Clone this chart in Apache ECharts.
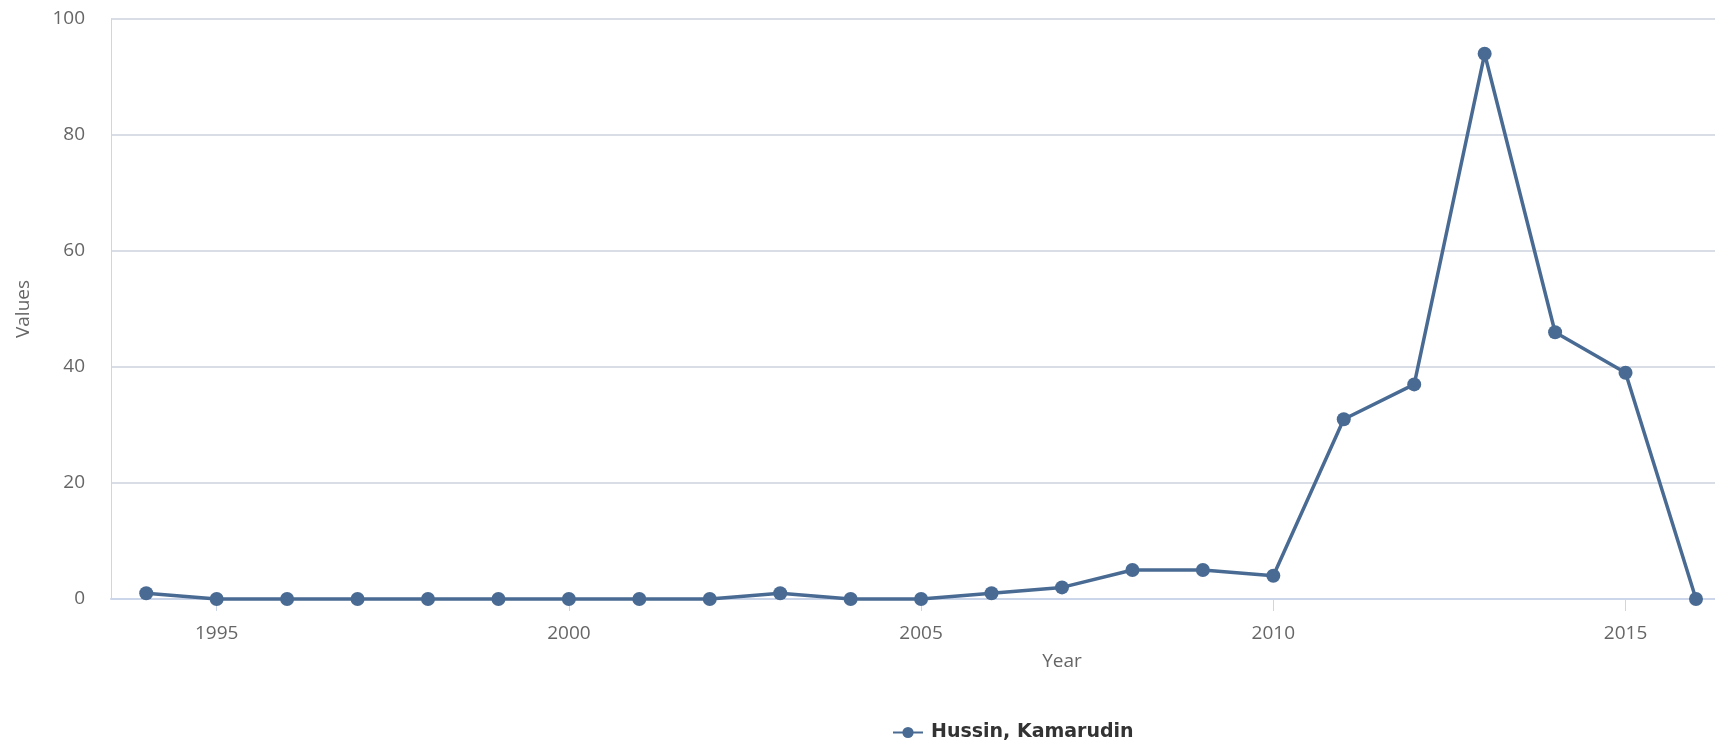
<!DOCTYPE html>
<html>
<head>
<meta charset="utf-8">
<title>Hussin, Kamarudin</title>
<script src="https://cdn.jsdelivr.net/npm/echarts@6/dist/echarts.min.js"></script>
<style>
  html, body { margin: 0; padding: 0; background: #fff; }
  #chart { width: 1715px; height: 742px; }
</style>
</head>
<body>
<div id="chart"></div>
<script>
// data
const years = [1994, 1995, 1996, 1997, 1998, 1999, 2000, 2001, 2002, 2003, 2004, 2005,
  2006, 2007, 2008, 2009, 2010, 2011, 2012, 2013, 2014, 2015, 2016];
const values = [1, 0, 0, 0, 0, 0, 0, 0, 0, 1, 0, 0,
  1, 2, 5, 5, 4, 31, 37, 94, 46, 39, 0];
const yearTicks = [1995, 2000, 2005, 2010, 2015];
const seriesName = 'Hussin, Kamarudin';

const lineColor = '#496b93';
const gridColor = '#d9dee6';
const axisColor = '#ccd6eb';
const labelFont = 'Open Sans';

const chart = echarts.init(document.getElementById('chart'));

chart.setOption({
  animation: false,
  // the screenshot is cropped on the right, plot runs to the edge
  grid: { left: 111, right: 0, top: 19, bottom: 143 },
  legend: {
    left: 887,
    top: 718,
    itemWidth: 30,
    itemHeight: 14,
    data: [seriesName],
    textStyle: {
      fontFamily: 'DejaVu Sans',
      fontWeight: 'bold',
      fontSize: 19,
      color: '#333',
      padding: [0, 0, 0, 3],
    },
  },
  xAxis: {
    type: 'value',
    min: 1993.5,
    max: 2016.27,
    name: 'Year',
    nameLocation: 'middle',
    nameGap: 53,
    // title sits at the centre of the uncropped plot, further right
    nameTextStyle: { fontFamily: labelFont, fontSize: 19, color: '#666', padding: [0, 0, 0, 298] },
    axisLine: { lineStyle: { color: axisColor, width: 2 } },
    axisTick: { show: true, length: 12, customValues: yearTicks, lineStyle: { color: axisColor } },
    axisLabel: {
      customValues: yearTicks,
      formatter: (v) => String(v),
      margin: 25,
      fontFamily: labelFont,
      fontSize: 19,
      color: '#666',
    },
    splitLine: { show: false },
  },
  yAxis: {
    type: 'value',
    min: 0,
    max: 100,
    interval: 20,
    name: 'Values',
    nameLocation: 'middle',
    nameGap: 78,
    nameTextStyle: { fontFamily: labelFont, fontSize: 19, color: '#666' },
    axisLine: { show: true, lineStyle: { color: axisColor, width: 1 } },
    axisTick: { show: false },
    axisLabel: {
      margin: 26,
      fontFamily: labelFont,
      fontSize: 19,
      color: '#666',
    },
    splitLine: { lineStyle: { color: gridColor, width: 2 } },
  },
  series: [
    {
      name: seriesName,
      type: 'line',
      data: years.map((y, i) => [y, values[i]]),
      color: lineColor,
      lineStyle: { color: lineColor, width: 3.5 },
      symbol: 'circle',
      symbolSize: 14,
      itemStyle: { color: lineColor },
      clip: false,
    },
  ],
});
</script>
</body>
</html>
